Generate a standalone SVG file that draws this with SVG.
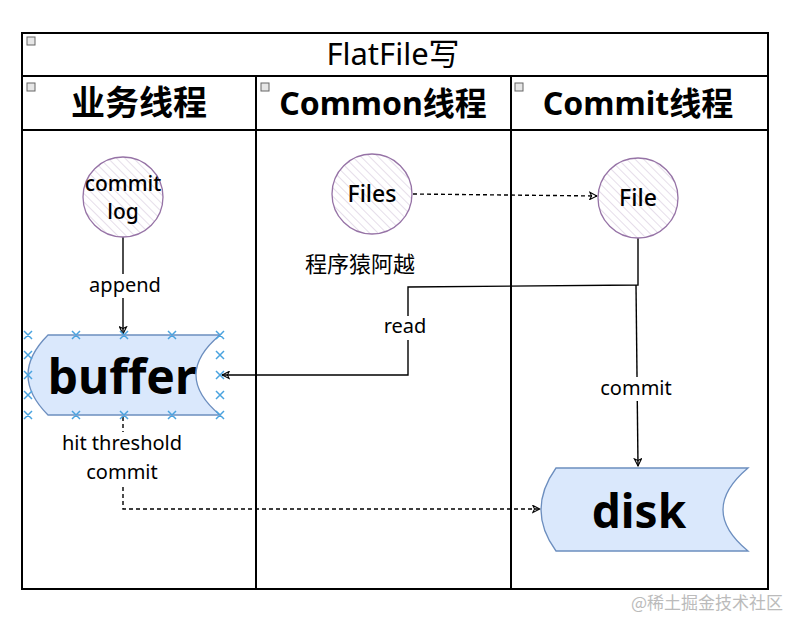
<svg xmlns="http://www.w3.org/2000/svg" width="790" height="618" viewBox="0 0 790 618">
<defs>
<style>
.frame{fill:none;stroke:#000;stroke-width:2}
.t{font-family:"Noto Sans","Noto Sans CJK SC",sans-serif;fill:#000;text-anchor:middle}
.hdr{font-weight:bold}
.node{fill:url(#hatch);stroke:#9673a6;stroke-width:1.3}
.store{fill:#dae8fc;stroke:#6c8ebf;stroke-width:1.3}
.conn{fill:none;stroke:#000;stroke-width:1.4}
.dash{stroke-dasharray:4 3}
.lbl{font-size:20px}
.x{stroke:#4aa3df;stroke-width:1.5}
.min{fill:#e6e6e6;stroke:#666;stroke-width:1}
</style>
<pattern id="hatch" width="6" height="6" patternUnits="userSpaceOnUse" patternTransform="rotate(-45)">
<rect width="6" height="6" fill="#fff"/>
<line x1="0" y1="0" x2="0" y2="6" stroke="#d6c8dd" stroke-width="1.2"/>
</pattern>
<marker id="arr" viewBox="0 0 10 10" refX="9" refY="5" markerWidth="9" markerHeight="9" orient="auto-start-reverse" markerUnits="userSpaceOnUse">
<path d="M1,1 L9,5 L1,9 L3,5 Z" fill="none" stroke="#000" stroke-width="1.2"/>
</marker>
</defs>
<rect width="790" height="618" fill="#fff"/>

<g id="pool">
<rect class="frame" x="22" y="33" width="746" height="556"/>
<line class="frame" x1="22" y1="76" x2="768" y2="76"/>
<line class="frame" x1="22" y1="130" x2="768" y2="130"/>
<line class="frame" x1="256" y1="76" x2="256" y2="589"/>
<line class="frame" x1="511" y1="76" x2="511" y2="589"/>
<rect class="min" x="27" y="37" width="8" height="8"/>
<rect class="min" x="27" y="83" width="8" height="8"/>
<rect class="min" x="261" y="83" width="8" height="8"/>
<rect class="min" x="515" y="83" width="8" height="8"/>
<text class="t" x="393" y="65" font-size="31">FlatFile写</text>
</g>

<g id="lane1"><text class="t hdr" x="139" y="115" font-size="34">业务线程</text></g>
<g id="lane2"><text class="t hdr" x="383" y="115" font-size="32">Common线程</text></g>
<g id="lane3"><text class="t hdr" x="638" y="115" font-size="32">Commit线程</text></g>

<g id="connectors">
<line class="conn" x1="123" y1="237" x2="123" y2="334" marker-end="url(#arr)"/>
<rect x="84" y="274" width="80" height="24" fill="#fff"/>
<text class="t lbl" x="125" y="292">append</text>

<line class="conn dash" x1="413" y1="194" x2="597" y2="196" marker-end="url(#arr)"/>

<polyline class="conn" points="638,238 638,285 408,287 408,375 222,375" marker-end="url(#arr)"/>
<rect x="376" y="316" width="58" height="24" fill="#fff"/>
<text class="t lbl" x="405" y="333">read</text>

<line class="conn" x1="636" y1="285" x2="638" y2="466" marker-end="url(#arr)"/>
<rect x="594" y="377" width="86" height="24" fill="#fff"/>
<text class="t lbl" x="636" y="395">commit</text>

<polyline class="conn dash" points="123,417 123,509 540,509" marker-end="url(#arr)"/>
<rect x="50" y="432" width="146" height="52" fill="#fff"/>
<text class="t lbl" x="122" y="450">hit threshold</text>
<text class="t lbl" x="122" y="479">commit</text>
</g>

<g id="commitlog">
<circle class="node" cx="123" cy="197" r="40"/>
<text class="t" x="123" y="191" font-size="21" font-weight="500">commit</text>
<text class="t" x="123" y="219" font-size="21" font-weight="500">log</text>
</g>

<g id="files">
<circle class="node" cx="372" cy="194" r="40"/>
<text class="t" x="372" y="202" font-size="23" font-weight="500">Files</text>
</g>

<g id="file">
<circle class="node" cx="638" cy="198" r="40"/>
<text class="t" x="638" y="206" font-size="23" font-weight="500">File</text>
</g>

<g id="author">
<text class="t" x="360" y="272" font-size="22">程序猿阿越</text>
</g>

<g id="buffer">
<path class="store" d="M48,335 L220,335 Q172,375 220,415 L48,415 Q8,375 48,335 Z"/>
<text class="t" x="122" y="394" font-size="48" font-weight="bold">buffer</text>
<g class="x">
<path d="M24,331l8,8m0,-8l-8,8 M72,331l8,8m0,-8l-8,8 M120,331l8,8m0,-8l-8,8 M168,331l8,8m0,-8l-8,8 M216,331l8,8m0,-8l-8,8"/>
<path d="M24,411l8,8m0,-8l-8,8 M72,411l8,8m0,-8l-8,8 M120,411l8,8m0,-8l-8,8 M168,411l8,8m0,-8l-8,8 M216,411l8,8m0,-8l-8,8"/>
<path d="M24,351l8,8m0,-8l-8,8 M24,371l8,8m0,-8l-8,8 M24,391l8,8m0,-8l-8,8"/>
<path d="M216,351l8,8m0,-8l-8,8 M216,371l8,8m0,-8l-8,8 M216,391l8,8m0,-8l-8,8"/>
</g>
</g>

<g id="disk">
<path class="store" d="M556,468 L748,468 Q698,510 748,551 L556,551 Q526,510 556,468 Z"/>
<text class="t" x="639" y="528" font-size="46" font-weight="bold">disk</text>
</g>

<g id="watermark">
<text x="783" y="609" font-family="'Noto Sans CJK SC',sans-serif" font-size="17" fill="#bbb" text-anchor="end">@稀土掘金技术社区</text>
</g>
</svg>
